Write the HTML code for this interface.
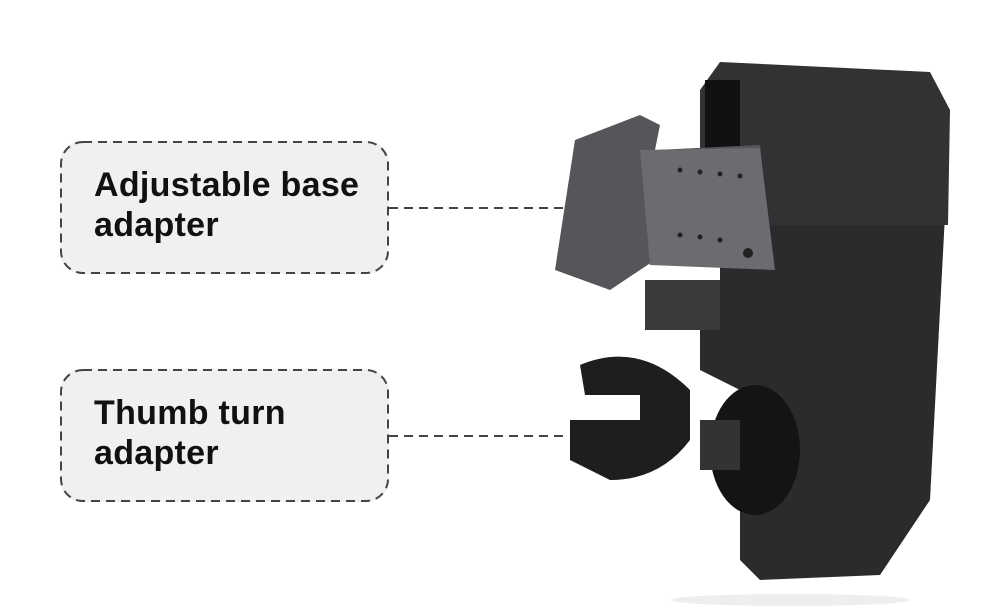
<!DOCTYPE html>
<html><head><style>
body{margin:0;width:998px;height:606px;background:#fff;overflow:hidden;position:relative;font-family:"Liberation Sans",sans-serif}
.box{position:absolute;left:60px;width:329px;height:133px;border-radius:22px;background:#f0f0f0;box-sizing:border-box}
.box div{position:absolute;left:34px;font-weight:bold;font-size:34px;line-height:40px;color:#111;letter-spacing:0.3px}
</style></head><body>
<div class="box" style="top:141px"><div style="top:24px">Adjustable base<br>adapter</div></div>
<div class="box" style="top:369px"><div style="top:24px">Thumb turn<br>adapter</div></div>
<svg width="998" height="606" style="position:absolute;left:0;top:0">
<g fill="none" stroke="#444" stroke-width="2" stroke-dasharray="9,6">
<rect x="61" y="142" width="327" height="131" rx="22"/>
<rect x="61" y="370" width="327" height="131" rx="22"/>
<line x1="389" y1="208" x2="569" y2="208"/>
<line x1="389" y1="436" x2="569" y2="436"/>
</g>
<ellipse cx="790" cy="600" rx="120" ry="6" fill="#eee"/>
<rect x="880" y="480" width="26" height="20" fill="#999"/>
<polygon points="720,200 935,200 945,215 930,500 880,575 760,580 740,560 740,390 700,370 700,330 720,290" fill="#2b2b2d"/>
<polygon points="700,90 720,62 930,72 950,110 948,225 740,225 700,200" fill="#323234"/>
<polygon points="705,80 740,80 740,215 705,200" fill="#111"/>
<polygon points="645,280 720,280 720,330 645,330" fill="#3a3a3c"/>
<polygon points="555,270 575,140 640,115 660,125 655,150 760,145 770,250 655,260 610,290" fill="#55565a"/>
<polygon points="640,150 760,148 775,270 650,265" fill="#6b6c70"/>
<g fill="#222"><circle cx="680" cy="170" r="2.5"/><circle cx="700" cy="172" r="2.5"/><circle cx="720" cy="174" r="2.5"/><circle cx="740" cy="176" r="2.5"/><circle cx="680" cy="235" r="2.5"/><circle cx="700" cy="237" r="2.5"/><circle cx="720" cy="240" r="2.5"/><circle cx="748" cy="253" r="5"/></g>
<path d="M580,365 Q640,340 690,390 L690,440 Q660,480 610,480 L570,460 L570,420 L640,420 L640,395 L585,395 Z" fill="#1e1e20"/>
<ellipse cx="755" cy="450" rx="45" ry="65" fill="#141416"/>
<rect x="700" y="420" width="40" height="50" fill="#333"/>
</svg>
</body></html>
